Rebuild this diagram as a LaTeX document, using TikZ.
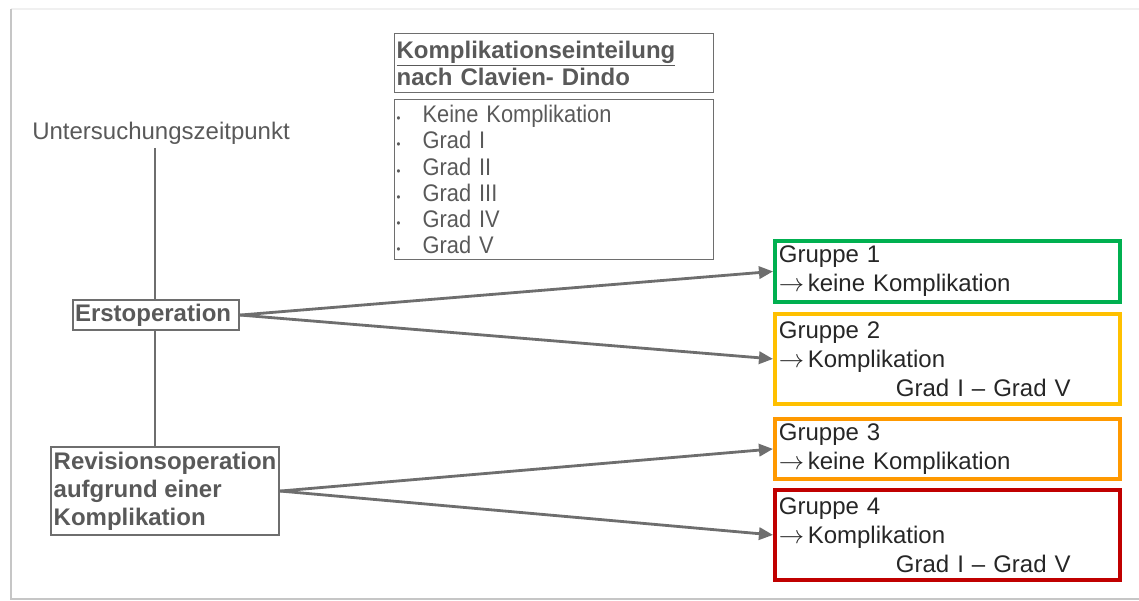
\documentclass[tikz,border=0pt]{standalone}
\usepackage{fontspec}
\setmainfont{Liberation Sans}
\newfontfamily\listfont[FakeStretch=0.91]{Liberation Sans}
\usetikzlibrary{arrows.meta}

\definecolor{txtgray}{HTML}{595959}
\definecolor{linegray}{HTML}{6E6E6E}
\definecolor{grgreen}{HTML}{00B050}
\definecolor{gryellow}{HTML}{FFC000}
\definecolor{grorange}{HTML}{FF9900}
\definecolor{grred}{HTML}{C00000}

\tikzset{
  labelbox/.style={draw=linegray, line width=1.2pt, inner sep=0.04cm, anchor=north west,
    align=left, text=txtgray, font=\bfseries\fontsize{13.66pt}{16pt}\selectfont},
  gruppe/.style={draw=#1, line width=2.2pt, inner sep=0.08cm, anchor=north west,
    minimum width=6.9cm, text width=6.74cm, align=left,
    font=\fontsize{13.66pt}{16.5pt}\selectfont, text=black!85},
  conn/.style={draw=linegray, line width=1.6pt},
  pfeil/.style={conn, -{Triangle[length=8pt,width=7pt]}}
}
\newcommand{\pf}{$\rightarrow$\hspace{2pt}}

\begin{document}
\begin{tikzpicture}[x=0.02cm,y=-0.02cm]
  \useasboundingbox (0,0) rectangle (1139,601);
  \draw[gray!12, line width=1pt] (11,9) -- (1139,9);
  \draw[gray!45, line width=1.2pt] (11,9) -- (11,599) -- (1139,599);

  \node (zeit) at (161,133) [text=txtgray, font=\fontsize{13.66pt}{16pt}\selectfont] {Untersuchungszeitpunkt};
  \coordinate (T) at (155,148);

  \node (erst) at (72,299) [labelbox, minimum width=3.32cm, minimum height=0.6cm,
    text width=3.24cm] {Erstoperation};
  \node (rev) at (50,446) [labelbox, minimum width=4.56cm, minimum height=1.76cm,
    font=\bfseries\fontsize{13.66pt}{15.9pt}\selectfont]
    {Revisionsoperation\\aufgrund einer\\Komplikation};

  \node (titel) at (394,33) [labelbox, line width=0.7pt, minimum width=6.38cm, minimum height=1.18cm,
    text width=6.3cm, font=\bfseries\fontsize{13.66pt}{15.4pt}\selectfont]
    {\underline{Komplikationseinteilung}\\nach Clavien- Dindo};
  \node (liste) at (394,99) [labelbox, line width=0.7pt, minimum width=6.38cm, minimum height=3.2cm,
    text width=6.3cm, font=\listfont\fontsize{13.66pt}{14.9pt}\selectfont]
    {\makebox[0.52cm][l]{\scriptsize\textbullet}Keine Komplikation\\
     \makebox[0.52cm][l]{\scriptsize\textbullet}Grad I\\
     \makebox[0.52cm][l]{\scriptsize\textbullet}Grad II\\
     \makebox[0.52cm][l]{\scriptsize\textbullet}Grad III\\
     \makebox[0.52cm][l]{\scriptsize\textbullet}Grad IV\\
     \makebox[0.52cm][l]{\scriptsize\textbullet}Grad V};

  \node (g1) at (773,239) [gruppe=grgreen, minimum height=1.22cm]
    {Gruppe 1\\\pf keine Komplikation};
  \node (g2) at (773,312) [gruppe=gryellow, minimum height=1.8cm]
    {Gruppe 2\\\pf Komplikation\\\hspace*{2.34cm}Grad I -- Grad V};
  \node (g3) at (773,417) [gruppe=grorange, minimum height=1.2cm]
    {Gruppe 3\\\pf keine Komplikation};
  \node (g4) at (773,488) [gruppe=grred, minimum height=1.8cm]
    {Gruppe 4\\\pf Komplikation\\\hspace*{2.34cm}Grad I -- Grad V};

  \draw[conn] (T) -- (T |- erst.north);
  \draw[conn] (T |- erst.south) -- (T |- rev.north);

  \draw[pfeil] (erst.east) -- (g1.west);
  \draw[pfeil] (erst.east) -- (g2.west);
  \draw[pfeil] (rev.east) -- (g3.west);
  \draw[pfeil] (rev.east) -- (g4.west);
\end{tikzpicture}
\end{document}
